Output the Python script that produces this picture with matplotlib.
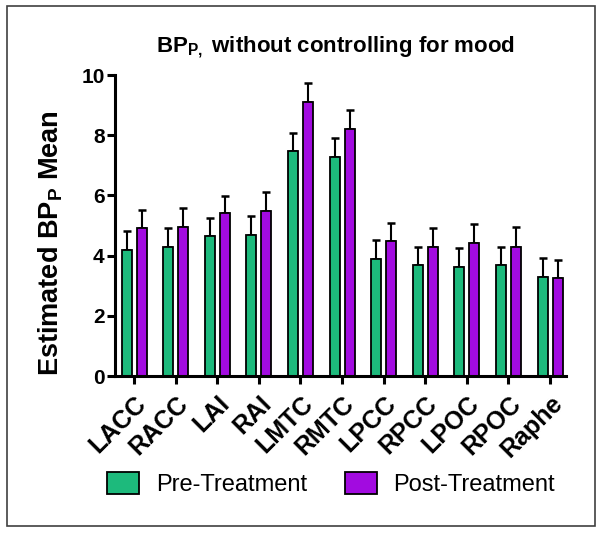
import numpy as np
import matplotlib
matplotlib.use("Agg")
import matplotlib.pyplot as plt
from matplotlib.patches import Rectangle
from matplotlib.transforms import ScaledTranslation

plt.rcParams['font.family'] = ['Liberation Sans', 'DejaVu Sans']
plt.rcParams['mathtext.fontset'] = 'custom'
plt.rcParams['mathtext.rm'] = 'Liberation Sans'
plt.rcParams['mathtext.bf'] = 'Liberation Sans:bold'

# data
regions = ['LACC', 'RACC', 'LAI', 'RAI', 'LMTC', 'RMTC', 'LPCC', 'RPCC', 'LPOC', 'RPOC', 'Raphe']
pre_mean = [4.19, 4.30, 4.66, 4.68, 7.46, 7.28, 3.90, 3.70, 3.61, 3.70, 3.30]
pre_err = [0.62, 0.63, 0.58, 0.63, 0.63, 0.63, 0.62, 0.60, 0.63, 0.60, 0.62]
post_mean = [4.91, 4.94, 5.40, 5.49, 9.12, 8.22, 4.48, 4.30, 4.42, 4.30, 3.24]
post_err = [0.62, 0.64, 0.59, 0.61, 0.62, 0.61, 0.62, 0.61, 0.62, 0.64, 0.63]

green = '#1DBA7C'
purple = '#A20BE0'

fig = plt.figure(figsize=(6.02, 5.36), dpi=100)
ax = fig.add_axes([0.191, 0.2985, 0.749, 0.5615])

x = np.arange(len(regions))
w = 0.24
ax.bar(x - 0.18, pre_mean, w, color=green, edgecolor='black', linewidth=1.3,
       label='Pre-Treatment', zorder=2)
ax.bar(x + 0.18, post_mean, w, color=purple, edgecolor='black', linewidth=1.3,
       label='Post-Treatment', zorder=2)
ax.errorbar(x - 0.18, pre_mean, yerr=[np.zeros(len(x)), pre_err], fmt='none',
            ecolor='black', elinewidth=1.5, capsize=3, capthick=1.8, zorder=1)
ax.errorbar(x + 0.18, post_mean, yerr=[np.zeros(len(x)), post_err], fmt='none',
            ecolor='black', elinewidth=1.5, capsize=3, capthick=1.8, zorder=1)

ax.set_xlim(-0.46, 10.38)
ax.set_ylim(0, 10)
ax.set_yticks([0, 2, 4, 6, 8, 10])
ax.set_xticks(x)
ax.set_xticklabels(regions, rotation=45, ha='right', rotation_mode='anchor',
                   fontsize=18, fontweight='bold')
shift = ScaledTranslation(-12 / 100, 0, fig.dpi_scale_trans)
for lab in ax.get_xticklabels():
    lab.set_transform(lab.get_transform() + shift)
for lab in ax.get_yticklabels():
    lab.set_fontweight('bold')
    lab.set_fontsize(15)

for s in ['top', 'right']:
    ax.spines[s].set_visible(False)
for s in ['left', 'bottom']:
    ax.spines[s].set_linewidth(2.2)
ax.tick_params(axis='y', width=2.2, length=6, pad=1.5)
ax.tick_params(axis='x', width=2.2, length=6, pad=5)

ax.set_ylabel(r'Estimated BP$_\mathbf{P}$ Mean', fontsize=19.5, fontweight='bold')
ax.yaxis.set_label_coords(-0.11, 0.44)
fig.text(0.557, 1 - 47 / 536, r'BP$_\mathbf{P,}$ without controlling for mood',
         fontsize=16, fontweight='bold', ha='center', va='center')

fig.legend(loc='center', bbox_to_anchor=(0.55, 0.097), ncol=2, frameon=False,
           fontsize=17, handlelength=1.35, handleheight=1.1, columnspacing=1.6,
           handletextpad=0.7)

fig.add_artist(Rectangle((0.0116, 0.0187), 0.9768, 0.9703, transform=fig.transFigure,
                         fill=False, edgecolor='#404040', linewidth=1.2))

fig.savefig('out.png', dpi=100)
